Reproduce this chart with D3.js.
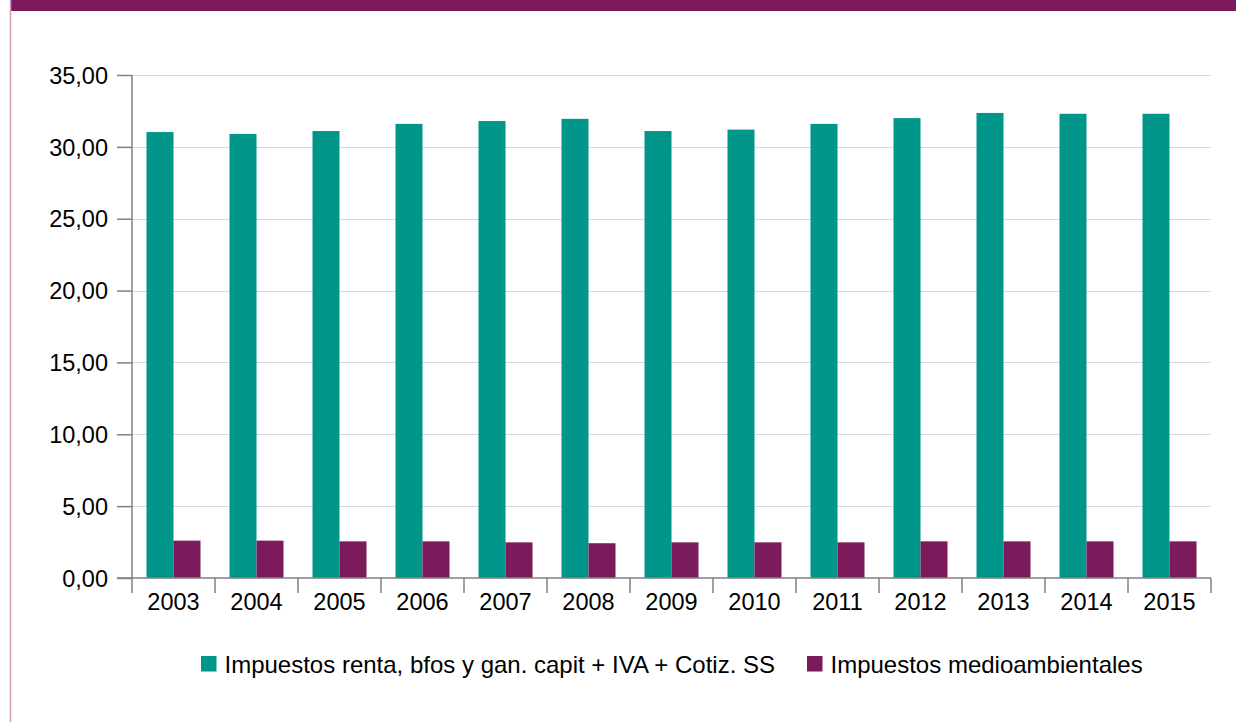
<!DOCTYPE html>
<html>
<head>
<meta charset="utf-8">
<script src="https://cdn.jsdelivr.net/npm/d3@7"></script>
<style>
  html, body { margin: 0; padding: 0; background: #fff; }
  svg { display: block; font-family: "Liberation Sans", Arial, sans-serif; }
</style>
</head>
<body>
<svg id="chart" width="1236" height="722"></svg>
<script>
const years = ["2003","2004","2005","2006","2007","2008","2009","2010","2011","2012","2013","2014","2015"];
const seriesNames = ["Impuestos renta, bfos y gan. capit + IVA + Cotiz. SS", "Impuestos medioambientales"];
const rentaIvaSS = [31.03, 30.9, 31.1, 31.6, 31.8, 31.95, 31.1, 31.2, 31.6, 32.0, 32.36, 32.3, 32.3];
const medioambientales = [2.6, 2.6, 2.55, 2.55, 2.48, 2.42, 2.48, 2.48, 2.48, 2.55, 2.55, 2.55, 2.55];
const yTicks = [0, 5, 10, 15, 20, 25, 30, 35];
const colors = ["#00968a", "#7b1b5b"];

(function () {
const svg = d3.select("#chart");
const W = 1236, H = 722;
const mLeft = 132, mRight = 1211, mTop = 75, mBottom = 578;

// frame: top band and left border
svg.append("rect").attr("x", 10).attr("y", 0).attr("width", W - 10).attr("height", 11).attr("fill", "#7b1b5b");
svg.append("line").attr("x1", 10.5).attr("x2", 10.5).attr("y1", 0).attr("y2", H)
  .attr("stroke", "#cf9fc0").attr("stroke-width", 1.5);

const x0 = d3.scaleBand().domain(years).range([mLeft, mRight]).padding(0);
const x1 = d3.scaleBand().domain(seriesNames).range([0, x0.bandwidth()]).paddingInner(0).paddingOuter(0.537);
const y = d3.scaleLinear().domain([0, 35]).range([mBottom, mTop]);

// gridlines
svg.append("g").selectAll("line").data(yTicks.filter(d => d > 0)).join("line")
  .attr("x1", mLeft).attr("x2", mRight)
  .attr("y1", d => Math.round(y(d)) + 0.5).attr("y2", d => Math.round(y(d)) + 0.5)
  .attr("stroke", "#d9d9d9").attr("stroke-width", 1.2);

// bars
const data = years.map((yr, i) => ({ year: yr, values: [rentaIvaSS[i], medioambientales[i]] }));
const groups = svg.append("g").selectAll("g").data(data).join("g")
  .attr("transform", d => `translate(${x0(d.year)},0)`);
groups.selectAll("rect").data(d => d.values.map((v, j) => ({ v, s: seriesNames[j], j }))).join("rect")
  .attr("x", d => x1(d.s)).attr("width", x1.bandwidth())
  .attr("y", d => y(d.v)).attr("height", d => y(0) - y(d.v))
  .attr("fill", d => colors[d.j]);

// y axis
const fmt = d => d.toFixed(2).replace(".", ",");
const yAxis = svg.append("g").attr("transform", `translate(${mLeft},0)`)
  .call(d3.axisLeft(y).tickValues(yTicks).tickFormat(fmt).tickSize(15).tickPadding(9));
yAxis.select(".domain").attr("stroke", "#808080").attr("stroke-width", 1.5).attr("d", `M0,${mTop}V${mBottom}`);
yAxis.selectAll(".tick line").attr("stroke", "#808080").attr("stroke-width", 1.5);
yAxis.selectAll(".tick text").attr("font-size", 23.5).attr("fill", "#000")
  .attr("font-family", "Liberation Sans, Arial, sans-serif").attr("dy", "0.35em");

// x axis: ticks at band boundaries
const xAxis = svg.append("g").attr("transform", `translate(0,${mBottom})`);
xAxis.append("line").attr("x1", mLeft - 15).attr("x2", mRight).attr("y1", 0).attr("y2", 0)
  .attr("stroke", "#808080").attr("stroke-width", 1.5);
const bounds = years.map(yr => x0(yr)).concat([x0(years[years.length - 1]) + x0.bandwidth()]);
xAxis.selectAll("line.tk").data(bounds).join("line").attr("class", "tk")
  .attr("x1", d => d).attr("x2", d => d).attr("y1", 0).attr("y2", 15)
  .attr("stroke", "#808080").attr("stroke-width", 1.5);
xAxis.selectAll("text").data(years).join("text")
  .attr("x", d => x0(d) + x0.bandwidth() / 2).attr("y", 32)
  .attr("text-anchor", "middle").attr("font-size", 23.5).attr("fill", "#000").text(d => d);

// legend
const legendX = [201, 807];
const lg = svg.append("g").selectAll("g").data(seriesNames).join("g")
  .attr("transform", (d, i) => `translate(${legendX[i]},656)`);
lg.append("rect").attr("width", 15.5).attr("height", 15.5).attr("fill", (d, i) => colors[i]);
lg.append("text").attr("x", 23.5).attr("y", 16.5).attr("font-size", 24).attr("fill", "#000").text(d => d);
})();
</script>
</body>
</html>
